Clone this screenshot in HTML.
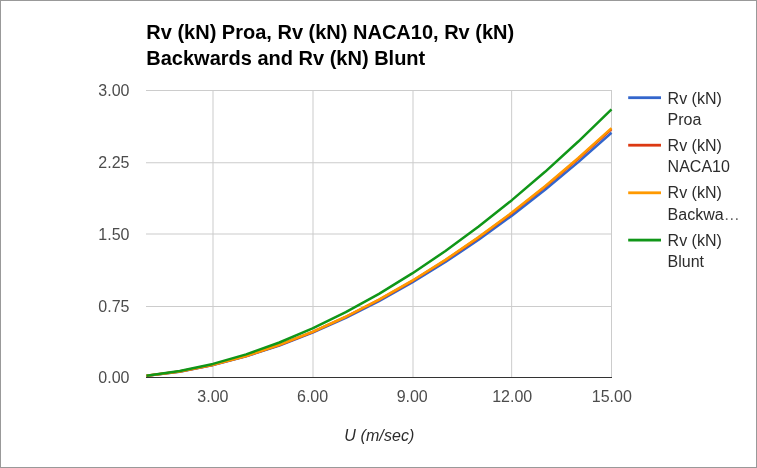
<!DOCTYPE html>
<html><head><meta charset="utf-8"><title>Chart</title>
<style>
html,body{margin:0;padding:0;background:#fff;}
body{width:757px;height:468px;overflow:hidden;}
svg{display:block;font-family:"Liberation Sans",Arial,sans-serif;}
</style></head><body>
<svg width="757" height="468" viewBox="0 0 757 468">
<rect x="0" y="0" width="757" height="468" fill="#ffffff"/>
<rect x="0.5" y="0.5" width="756" height="467" fill="none" stroke="#999999" stroke-width="1"/>
<text x="146.3" y="39" font-size="20" font-weight="bold" fill="#000">Rv (kN) Proa, Rv (kN) NACA10, Rv (kN)</text>
<text x="146.3" y="65" font-size="20" font-weight="bold" fill="#000">Backwards and Rv (kN) Blunt</text>

<rect x="146" y="306" width="466" height="1" fill="#cccccc"/>
<rect x="146" y="233.5" width="466" height="1" fill="#cccccc"/>
<rect x="146" y="162.25" width="466" height="1" fill="#cccccc"/>
<rect x="146" y="90" width="466" height="1" fill="#cccccc"/>
<rect x="212.50" y="90" width="1" height="288" fill="#cccccc"/>
<rect x="312.50" y="90" width="1" height="288" fill="#cccccc"/>
<rect x="412.50" y="90" width="1" height="288" fill="#cccccc"/>
<rect x="511.15" y="90" width="1" height="288" fill="#cccccc"/>
<rect x="611.00" y="90" width="1" height="288" fill="#cccccc"/>
<rect x="146" y="377" width="466" height="1" fill="#333333"/>
<g fill="none" stroke-width="2.5" stroke-linejoin="round">
<path d="M146.50,375.88L179.71,371.65L212.93,365.10L246.14,356.37L279.36,345.54L312.57,332.70L345.79,317.89L379.00,301.15L412.21,282.53L445.43,262.06L478.64,239.76L511.86,215.66L545.07,189.78L578.29,162.15L611.50,132.78" stroke="#3366cc"/>
<path d="M146.50,375.86L179.71,371.56L212.93,364.90L246.14,356.04L279.36,345.04L312.57,332.00L345.79,316.96L379.00,299.96L412.21,281.05L445.43,260.25L478.64,237.60L511.86,213.13L545.07,186.85L578.29,158.79L611.50,128.96" stroke="#dc3912"/>
<path d="M146.50,375.85L179.71,371.54L212.93,364.86L246.14,355.96L279.36,344.93L312.57,331.84L345.79,316.75L379.00,299.69L412.21,280.71L445.43,259.85L478.64,237.12L511.86,212.56L545.07,186.19L578.29,158.03L611.50,128.10" stroke="#ff9900"/>
<path d="M146.50,375.73L179.71,371.09L212.93,363.91L246.14,354.34L279.36,342.48L312.57,328.41L345.79,312.18L379.00,293.84L412.21,273.44L445.43,251.00L478.64,226.57L511.86,200.16L545.07,171.81L578.29,141.53L611.50,109.35" stroke="#109618"/>
</g>
<text x="98.3" y="383" font-size="16" fill="#4c4c4c">0.00</text>
<text x="98.3" y="312" font-size="16" fill="#4c4c4c">0.75</text>
<text x="98.3" y="240" font-size="16" fill="#4c4c4c">1.50</text>
<text x="98.3" y="168" font-size="16" fill="#4c4c4c">2.25</text>
<text x="98.3" y="96" font-size="16" fill="#4c4c4c">3.00</text>
<text x="212.9" y="402" font-size="16" text-anchor="middle" fill="#4c4c4c">3.00</text>
<text x="312.6" y="402" font-size="16" text-anchor="middle" fill="#4c4c4c">6.00</text>
<text x="412.2" y="402" font-size="16" text-anchor="middle" fill="#4c4c4c">9.00</text>
<text x="512.2" y="402" font-size="16" text-anchor="middle" fill="#4c4c4c">12.00</text>
<text x="611.8" y="402" font-size="16" text-anchor="middle" fill="#4c4c4c">15.00</text>
<text x="379.4" y="441" font-size="16" font-style="italic" text-anchor="middle" letter-spacing="0.11" fill="#2c2c2c">U (m/sec)</text>
<rect x="628.2" y="96.3" width="32.8" height="2.8" fill="#3366cc"/>
<text x="667.6" y="104" font-size="16" fill="#2c2c2c">Rv (kN)</text>
<text x="667.6" y="125" font-size="16" fill="#2c2c2c">Proa</text>
<rect x="628.2" y="143.8" width="32.8" height="2.8" fill="#dc3912"/>
<text x="667.6" y="151" font-size="16" fill="#2c2c2c">Rv (kN)</text>
<text x="667.6" y="172" font-size="16" fill="#2c2c2c">NACA10</text>
<rect x="628.2" y="191.4" width="32.8" height="2.8" fill="#ff9900"/>
<text x="667.6" y="198" font-size="16" fill="#2c2c2c">Rv (kN)</text>
<text x="667.6" y="220" font-size="16" fill="#2c2c2c">Backwa<tspan fill="#666666">…</tspan></text>
<rect x="628.2" y="238.7" width="32.8" height="2.8" fill="#109618"/>
<text x="667.6" y="246" font-size="16" fill="#2c2c2c">Rv (kN)</text>
<text x="667.6" y="267" font-size="16" fill="#2c2c2c">Blunt</text>
</svg></body></html>
